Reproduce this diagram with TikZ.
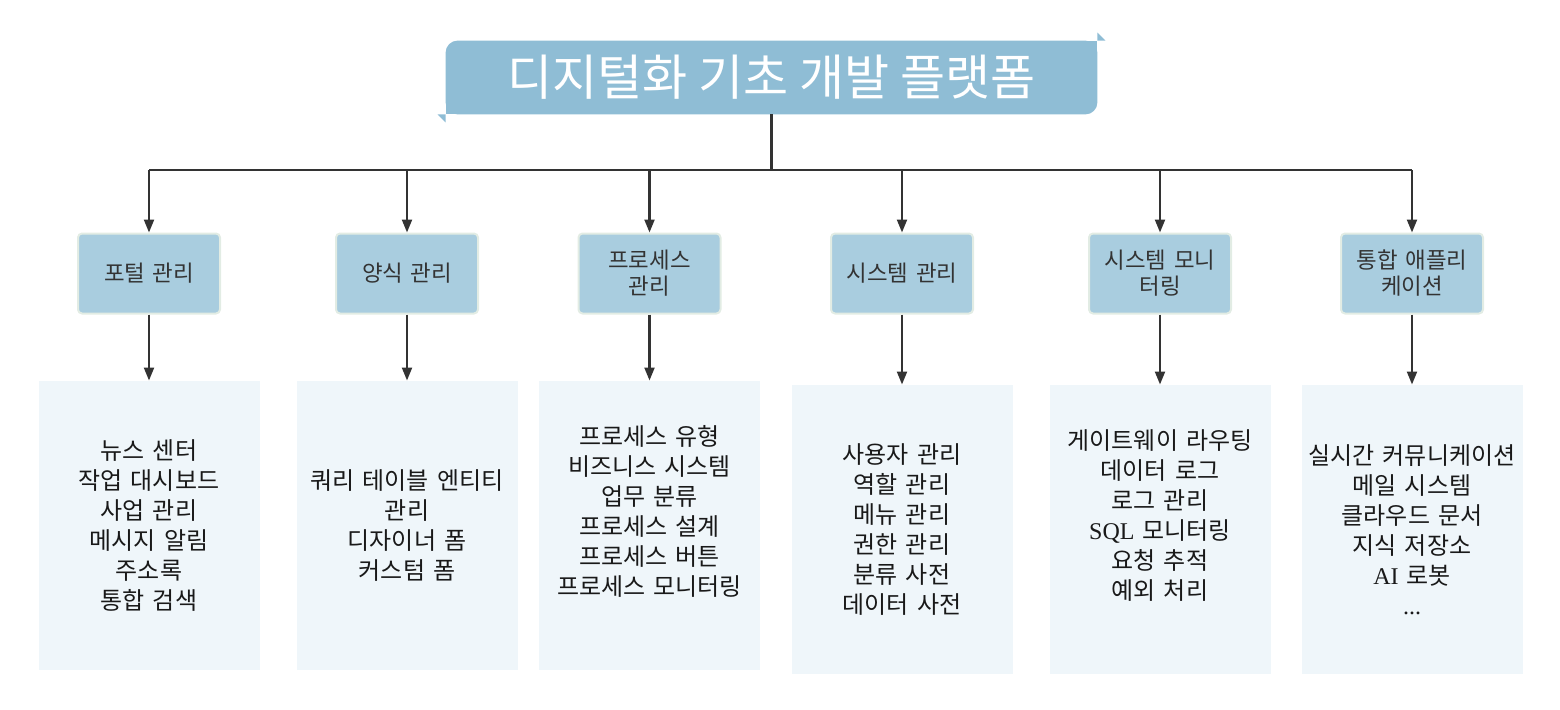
\documentclass[tikz,border=0pt]{standalone}
\usepackage{fontspec}
\setmainfont{Noto Sans CJK KR}
\newfontfamily\latn{Liberation Serif}
\usetikzlibrary{positioning,arrows.meta,backgrounds}
\definecolor{titlebg}{RGB}{143,189,213}
\definecolor{catbg}{RGB}{169,205,223}
\definecolor{catline}{RGB}{226,236,228}
\definecolor{itembg}{RGB}{239,246,250}
\definecolor{wire}{RGB}{51,51,51}
\begin{document}
\begin{tikzpicture}[x=0.5pt,y=-0.5pt,c/.style={draw=catline,line width=1pt,fill=catbg,rounded corners=2pt,align=center,text width=66pt,minimum width=71pt,minimum height=40pt,inner sep=0pt,font=\fontsize{11.2}{13}\selectfont,text=black!80},d/.style={fill=itembg,align=center,text width=108pt,minimum width=110.5pt,minimum height=144.5pt,inner sep=0pt,font=\fontsize{12}{15}\selectfont,text=black!90},a/.style={-{Triangle[length=6.5pt,width=5pt]},line width=1.1pt,draw=wire}]
\useasboundingbox(0,0)rectangle(1560,709);
\node[minimum width=325.5pt,minimum height=36.5pt,text=white,font=\fontsize{24.5}{28}\selectfont](title)at(771.5,77.5){디지털화 기초 개발 플랫폼};
\begin{scope}[on background layer]
\fill[titlebg,rounded corners=6pt](title.south west)rectangle(title.north east);
\fill[titlebg](title.north east)rectangle++(-20,20);
\fill[titlebg](title.south west)rectangle++(20,-20);
\fill[titlebg](title.north east)--++(0,-8)--++(8,8)--cycle;
\fill[titlebg](title.south west)--++(0,8)--++(-8,-8)--cycle;
\end{scope}
\node[c](portal)at(149,273.5){포털 관리};
\node[c](form)at(407,273.5){양식 관리};
\node[c](proc)at(649.5,273.5){프로세스\\관리};
\node[c](sys)at(902,273.5){시스템 관리};
\node[c](mon)at(1160,273.5){시스템 모니\\터링};
\node[c](app)at(1412,273.5){통합 애플리\\케이션};
\node[d,below=33pt of portal](portalitems){뉴스 센터\\작업 대시보드\\사업 관리\\메시지 알림\\주소록\\통합 검색};
\node[d,below=33pt of form](formitems){쿼리 테이블 엔티티\\관리\\디자이너 폼\\커스텀 폼};
\node[d,below=33pt of proc](procitems){프로세스 유형\\비즈니스 시스템\\업무 분류\\프로세스 설계\\프로세스 버튼\\프로세스 모니터링\\\mbox{}};
\node[d,below=35pt of sys](sysitems){사용자 관리\\역할 관리\\메뉴 관리\\권한 관리\\분류 사전\\데이터 사전};
\node[d,below=35pt of mon](monitems){게이트웨이 라우팅\\데이터 로그\\로그 관리\\{\latn SQL} 모니터링\\요청 추적\\예외 처리\\\mbox{}};
\node[d,below=35pt of app](appitems){실시간 커뮤니케이션\\메일 시스템\\클라우드 문서\\지식 저장소\\{\latn AI} 로봇\\{\latn ...}};
\coordinate(hub)at(770,170);
\draw[line width=1.1pt,wire](title.south)--(title.south|-hub);
\draw[line width=1.1pt,wire](portal|-hub)--(app|-hub);
\foreach \x in {portal,form,proc,sys,mon,app}\draw[a](\x|-hub)--(\x.north);
\foreach \x/\y in {portal/portalitems,form/formitems,proc/procitems,sys/sysitems,mon/monitems,app/appitems}\draw[a](\x.south)--(\x.south|-\y.north);
\end{tikzpicture}
\end{document}
